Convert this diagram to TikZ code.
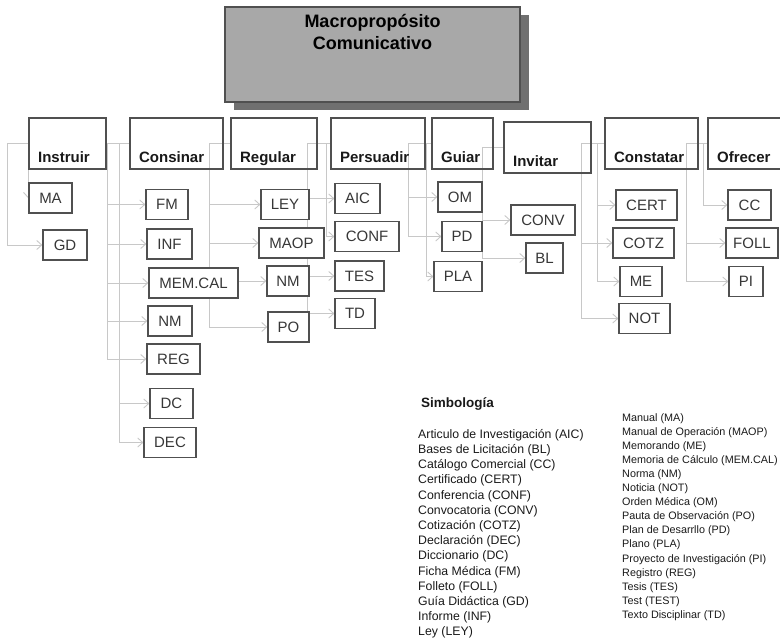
\documentclass[tikz,border=0pt]{standalone}
\usepackage{fontspec}
\setmainfont{Liberation Sans}
\usepackage{tikz}
\usetikzlibrary{arrows.meta}
\usetikzlibrary{shadows}
\usetikzlibrary{backgrounds}
\definecolor{boxgrey}{RGB}{80,80,80}
\definecolor{linegrey}{RGB}{200,200,200}
\definecolor{titlefill}{RGB}{168,168,168}
\definecolor{shadowgrey}{RGB}{112,112,112}
\definecolor{labelgrey}{RGB}{55,55,55}
\definecolor{textblack}{RGB}{25,25,25}
\tikzstyle{titlebox} = [draw=boxgrey,fill=titlefill,rectangle,line width=1.2pt,inner sep=0pt,
                        drop shadow={shadow xshift=9pt,shadow yshift=-8pt,fill=shadowgrey,opacity=1}]
\tikzstyle{titletext} = [anchor=north,align=center,inner sep=0pt,text=black,
                         font=\bfseries\fontsize{18}{22}\selectfont]
\tikzstyle{catbox} = [draw=boxgrey,rectangle,line width=1.2pt,minimum height=51pt,inner sep=0pt]
\tikzstyle{cattext} = [anchor=base west,inner sep=0pt,text=textblack,
                       font=\bfseries\fontsize{15}{18}\selectfont]
\tikzstyle{docbox} = [draw=boxgrey,fill=white,rectangle,line width=1.2pt,minimum height=30pt,
                      inner sep=0pt,text=labelgrey,font=\fontsize{15}{18}\selectfont]
\tikzstyle{connector} = [->,draw=linegrey,line width=0.9pt]
\tikzstyle{trunk} = [draw=linegrey,line width=0.9pt]
\tikzstyle{legend} = [anchor=north west,align=left,inner sep=0pt,text=textblack]

\begin{document}
\begin{tikzpicture}[x=1pt,y=-1pt,>={Straight Barb[length=5pt,width=9pt]}]
    \useasboundingbox (0,0) rectangle (780,642);
    % title
    \node[titlebox,minimum width=295pt,minimum height=95pt] (macro) at (372.5,54.5) {};
    \node[titletext] (macroL) at (372.5,14) {Macropropósito\\Comunicativo};
    % categories
    \node[catbox,minimum width=77pt] (instruir) at (67.5,143.5) {};
    \node[catbox,minimum width=93pt] (consinar) at (176.5,143.5) {};
    \node[catbox,minimum width=86pt] (regular) at (274,143.5) {};
    \node[catbox,minimum width=94pt] (persuadir) at (378,143.5) {};
    \node[catbox,minimum width=61pt] (guiar) at (462.5,143.5) {};
    \node[catbox,minimum width=87pt] (invitar) at (547.5,147.5) {};
    \node[catbox,minimum width=93pt] (constatar) at (651.5,143.5) {};
    \node[catbox,minimum width=77pt] (ofrecer) at (746.5,143.5) {};
    \node[cattext] (instruirL) at ([xshift=9.5pt,yshift=7pt]instruir.south west) {Instruir};
    \node[cattext] (consinarL) at ([xshift=9.5pt,yshift=7pt]consinar.south west) {Consinar};
    \node[cattext] (regularL) at ([xshift=9.5pt,yshift=7pt]regular.south west) {Regular};
    \node[cattext] (persuadirL) at ([xshift=9.5pt,yshift=7pt]persuadir.south west) {Persuadir};
    \node[cattext] (guiarL) at ([xshift=9.5pt,yshift=7pt]guiar.south west) {Guiar};
    \node[cattext] (invitarL) at ([xshift=9.5pt,yshift=7pt]invitar.south west) {Invitar};
    \node[cattext] (constatarL) at ([xshift=9.5pt,yshift=7pt]constatar.south west) {Constatar};
    \node[cattext] (ofrecerL) at ([xshift=9.5pt,yshift=7pt]ofrecer.south west) {Ofrecer};
    % documents
    \node[docbox,minimum width=43pt] (ma) at (50.5,198) {MA};
    \node[docbox,minimum width=44pt] (gd) at (65,245) {GD};
    \node[docbox,minimum width=42pt] (fm) at (167,204.5) {FM};
    \node[docbox,minimum width=45pt] (inf) at (169.5,244) {INF};
    \node[docbox,minimum width=89pt] (memcal) at (193.5,283) {MEM.CAL};
    \node[docbox,minimum width=44pt] (nmA) at (170,321) {NM};
    \node[docbox,minimum width=53pt] (reg) at (173.5,359) {REG};
    \node[docbox,minimum width=43pt] (dc) at (171.5,403.5) {DC};
    \node[docbox,minimum width=52pt] (dec) at (170,442.5) {DEC};
    \node[docbox,minimum width=48pt] (ley) at (285,204.5) {LEY};
    \node[docbox,minimum width=65pt] (maop) at (291.5,243) {MAOP};
    \node[docbox,minimum width=42pt] (nmB) at (288,281) {NM};
    \node[docbox,minimum width=41pt] (po) at (288.5,327) {PO};
    \node[docbox,minimum width=45pt] (aic) at (357.5,198.5) {AIC};
    \node[docbox,minimum width=64pt] (conf) at (367,236.5) {CONF};
    \node[docbox,minimum width=49pt] (tes) at (359.5,276) {TES};
    \node[docbox,minimum width=40pt] (td) at (355,313.5) {TD};
    \node[docbox,minimum width=44pt] (om) at (460,197) {OM};
    \node[docbox,minimum width=40pt] (pd) at (462,236.5) {PD};
    \node[docbox,minimum width=48pt] (pla) at (458,276.5) {PLA};
    \node[docbox,minimum width=64pt] (conv) at (543,220) {CONV};
    \node[docbox,minimum width=37pt] (bl) at (544.5,258) {BL};
    \node[docbox,minimum width=61pt] (cert) at (646.5,205) {CERT};
    \node[docbox,minimum width=61pt] (cotz) at (643.5,243) {COTZ};
    \node[docbox,minimum width=42pt] (me) at (641,281.5) {ME};
    \node[docbox,minimum width=51pt] (not) at (644.5,318.5) {NOT};
    \node[docbox,minimum width=43pt] (cc) at (749.5,205) {CC};
    \node[docbox,minimum width=52pt] (foll) at (752,243) {FOLL};
    \node[docbox,minimum width=34pt] (pi) at (746,281.5) {PI};
    % trunk tops
    \coordinate (inT) at (7,143);
    \coordinate (inT2) at (28,143);
    \coordinate (coT) at (107,143);
    \coordinate (coT2) at (119,143);
    \coordinate (reT) at (209,143);
    \coordinate (peT) at (307,143);
    \coordinate (peT2) at (326,143);
    \coordinate (guT) at (408,143);
    \coordinate (guT2) at (426,143);
    \coordinate (ivT) at (482,147);
    \coordinate (ctT) at (581,143);
    \coordinate (ctT2) at (597,143);
    \coordinate (ofT) at (686,143);
    \coordinate (ofT2) at (703,143);
    % now link the nodes
    \begin{scope}[on background layer]
    \draw [trunk] (inT) -- (instruir.west |- inT);
    \draw [connector] (inT2) -- (inT2 |- ma);
    \draw [connector] (inT) |- (gd);
    \draw [trunk] (coT) -- (consinar.west |- coT);
    \draw [connector] (coT) |- (fm);
    \draw [connector] (coT) |- (inf);
    \draw [connector] (coT) |- (memcal);
    \draw [connector] (coT) |- (nmA);
    \draw [connector] (coT) |- (reg);
    \draw [connector] (coT2) |- (dc);
    \draw [connector] (coT2) |- (dec);
    \draw [trunk] (reT) -- (regular.west |- reT);
    \draw [connector] (reT) |- (ley);
    \draw [connector] (reT) |- (maop);
    \draw [connector] (reT) |- (nmB);
    \draw [connector] (reT) |- (po);
    \draw [trunk] (peT) -- (persuadir.west |- peT);
    \draw [connector] (peT) |- (aic);
    \draw [connector] (peT2) |- (conf);
    \draw [connector] (peT) |- (tes);
    \draw [connector] (peT) |- (td);
    \draw [trunk] (guT) -- (guiar.west |- guT);
    \draw [connector] (guT) |- (om);
    \draw [connector] (guT) |- (pd);
    \draw [connector] (guT2) |- (pla);
    \draw [trunk] (ivT) -- (invitar.west |- ivT);
    \draw [connector] (ivT) |- (conv);
    \draw [connector] (ivT) |- (bl);
    \draw [trunk] (ctT) -- (constatar.west |- ctT);
    \draw [connector] (ctT2) |- (cert);
    \draw [connector] (ctT) |- (cotz);
    \draw [connector] (ctT2) |- (me);
    \draw [connector] (ctT) |- (not);
    \draw [trunk] (ofT) -- (ofrecer.west |- ofT);
    \draw [connector] (ofT2) |- (cc);
    \draw [connector] (ofT) |- (foll);
    \draw [connector] (ofT) |- (pi);
    \end{scope}
    % legend
    \node[anchor=base west,inner sep=0pt,text=textblack,font=\bfseries\fontsize{13.5}{16}\selectfont]
        (simbologia) at (421,407) {Simbología};
    \node[legend,font=\fontsize{12.3}{15.2}\selectfont] (legendA) at (418,429) {%
        Articulo de Investigación (AIC)\\ Bases de Licitación (BL)\\ Catálogo Comercial (CC)\\
        Certificado (CERT)\\ Conferencia (CONF)\\ Convocatoria (CONV)\\ Cotización (COTZ)\\
        Declaración (DEC)\\ Diccionario (DC)\\ Ficha Médica (FM)\\ Folleto (FOLL)\\
        Guía Didáctica (GD)\\ Informe (INF)\\ Ley (LEY)};
    \node[legend,font=\fontsize{10.8}{14.1}\selectfont] (legendB) at (622,413) {%
        Manual (MA)\\ Manual de Operación (MAOP)\\ Memorando (ME)\\ Memoria de Cálculo (MEM.CAL)\\
        Norma (NM)\\ Noticia (NOT)\\ Orden Médica (OM)\\ Pauta de Observación (PO)\\
        Plan de Desarrllo (PD)\\ Plano (PLA)\\ Proyecto de Investigación (PI)\\ Registro (REG)\\
        Tesis (TES)\\ Test (TEST)\\ Texto Disciplinar (TD)};
\end{tikzpicture}
\end{document}
